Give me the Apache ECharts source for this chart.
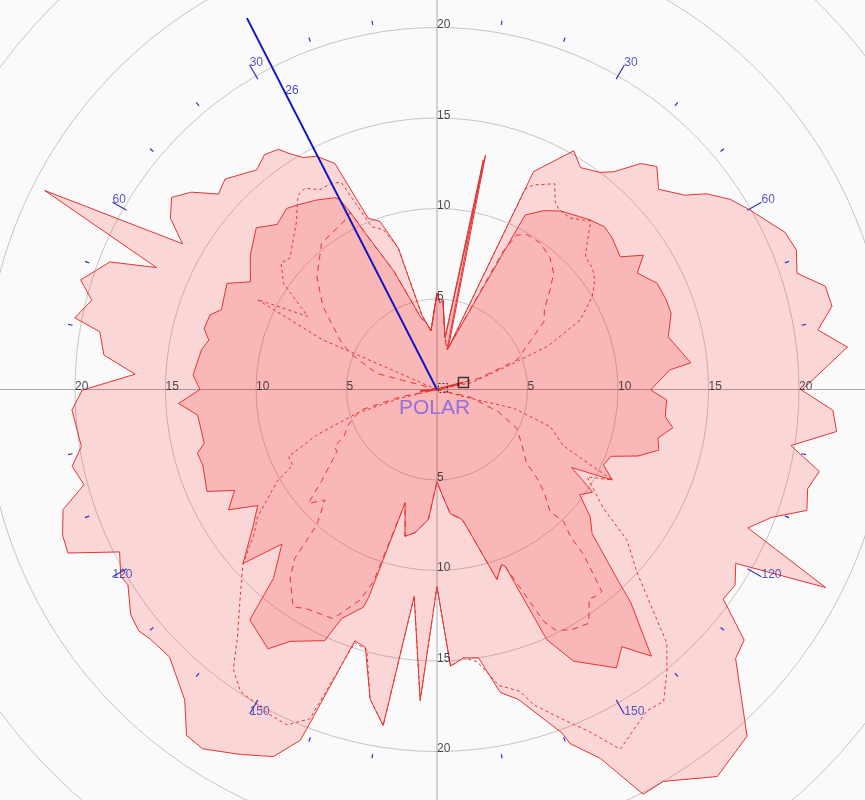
<!DOCTYPE html>
<html><head><meta charset="utf-8">
<script src="https://cdn.jsdelivr.net/npm/echarts@6.0.0/dist/echarts.min.js"></script>
<style>html,body{margin:0;padding:0;background:#fafafa}#c{width:865px;height:800px}</style>
</head><body><div id="c"></div>
<script>
// ---- data: points are [radius, angle in degrees clockwise from top] ----
const outerEnvelope = [
[5.33,0],[4.78,2.0],[4.96,3.8],[2.88,8.8],[13.23,11.7],[2.36,15.3],[13.17,23.9],[15.2,29.8],[14.6,32.9],[15.0,36.9],
[15.5,39.1],[16.8,42.0],[17.3,44.6],[16.5,47.9],[17.4,51.9],[18.4,54.0],[19.3,57.0],[19.9,60.0],[21.1,65.7],[21.3,68.8],
[20.9,72.1],[22.2,75.1],[22.3,78.1],[21.3,81.1],[22.8,84.1],[20.15,90.1],[21.9,93.0],[22.2,96.0],[19.8,99.0],[21.6,102.1],
[21.2,105.0],[21.5,108.1],[19.8,110.9],[18.8,114.0],[24.1,117.0],[19.1,120.2],[19.7,123.3],[19.6,126.2],[21.9,129.2],[22.2,132.0],
[25.7,138.2],[26.4,144.1],[25.0,150.0],[25.1,153.0],[22.3,156.1],[20.9,159.4],[20.2,160.0],[17.7,165.3],[17.1,168.2],[15.0,171.2],
[14.9,174.3],[15.3,177.2],[10.9,180.0],[17.2,183.1],[11.5,186.3],[18.8,189.1],[17.5,192.2],[14.8,195.5],[14.6,198.1],[20.1,201.0],
[20.8,201.3],[22.2,204.0],[22.9,208.3],[23.7,213.1],[23.6,215.9],[22.1,219.1],[20.9,225.0],[21.0,228.9],[21.2,231.0],[21.0,233.7],
[20.2,237.7],[20.3,239.4],[19.7,242.9],[22.3,246.1],[22.2,248.7],[21.7,252.2],[20.2,254.9],[20.6,258.1],[19.9,260.9],[20.2,266.8],
[19.6,269.9],[16.7,272.9],[18.5,275.9],[18.9,279.7],[20.4,281.2],[19.7,284.5],[20.6,287.1],[19.4,291.3],[16.9,293.5],[24.3,296.9],
[16.2,299.8],[17.5,302.7],[18.1,305.9],[17.4,308.8],[16.2,311.8],[16.5,314.8],[15.7,320.6],[16.1,323.7],[15.9,326.6],[15.4,327.9],
[14.8,330.0],[14.5,332.7],[13.7,335.7],[10.2,338.1],[9.8,341.3],[8.1,344.7],[4.2,348.5],[3.78,350.7],[3.25,354.1],[5.33,360]
];
const innerEnvelope = [
[5.33,0],[4.78,2.0],[4.96,3.8],[2.88,8.8],[12.95,11.4],[2.25,14.2],[10.8,26.8],[11.5,30.8],[12.0,34.7],[12.6,41.8],
[12.9,45.8],[12.8,49.2],[12.5,54.1],[13.6,56.95],[12.8,59.8],[13.5,64.2],[13.6,68.7],[13.6,72.0],[13.1,77.2],[14.1,84.0],
[12.9,85.2],[11.8,90.1],[12.7,92.6],[12.7,96.8],[13.2,99.2],[12.5,102.4],[12.7,105.3],[11.7,108.3],[10.3,111.0],[10.1,114.4],
[10.9,117.3],[8.6,120.1],[10.3,123.4],[9.8,126.4],[11.0,129.7],[11.7,132.9],[14.6,136.6],[15.9,137.7],[18.9,141.2],[17.5,144.3],
[18.3,147.2],[16.8,153.3],[15.1,156.3],[10.5,158.9],[10.3,159.7],[11.0,162.5],[7.6,168.2],[7.3,169.2],[6.9,173.9],[5.8,177.3],
[5.1,180.0],[7.2,183.8],[8.0,188.7],[8.3,192.3],[6.5,195.7],[12.1,198.2],[12.7,198.7],[13.7,202.6],[15.2,204.1],[16.1,210.2],
[17.1,213.1],[16.4,219.1],[13.8,220.9],[12.1,225.1],[14.4,228.1],[12.6,233.6],[11.8,237.1],[13.3,240.0],[12.5,243.5],[13.9,246.1],
[13.6,252.1],[13.7,255.1],[13.2,257.0],[13.3,263.9],[14.3,266.9],[13.1,270.0],[13.5,273.4],[13.2,279.5],[12.9,282.2],[13.3,284.7],
[13.2,288.2],[12.7,290.3],[13.0,296.8],[11.9,300.0],[12.7,305.7],[13.4,311.8],[12.7,315.9],[13.0,320.3],[12.8,322.7],[12.4,327.6],
[12.0,332.0],[11.8,332.9],[10.9,333.9],[9.1,335.9],[7.0,339.9],[4.5,345.7],[4.05,347.4],[3.78,350.7],[3.25,354.1],[5.33,360]
];
const dashedFine = [
[5.33,0],[4.78,2.0],[4.96,3.8],[2.88,8.8],[2.36,15.3],[12.1,23.7],[12.5,25.3],[13.1,29.8],[12.3,32.0],[12.0,34.1],
[12.0,37.9],[12.6,42.4],[11.4,46.4],[11.0,48.2],[10.9,52.0],[10.6,55.3],[10.0,59.1],[8.8,64.1],[6.6,68.6],[4.25,71.4],
[1.9,79],[0,90],[1.9,104.8],[4.4,103.8],[6.6,108.2],[7.6,113.9],[9.0,115.7],[10.9,117.3],[9.6,120.2],[11.3,125.5],
[13.4,128.4],[14.9,132.3],[17.1,135.7],[18.9,137.8],[20.1,140.8],[21.3,144.0],[21.2,146.8],[22.3,153.0],[20.6,156.2],[19.7,158.6],
[18.2,163.0],[17.3,164.6],[16.7,168.2],[15.2,171.6],[14.9,174.3],[15.3,177.2],[10.9,180],[17.2,183.1],[11.5,186.3],[18.8,189.1],
[17.5,192.2],[14.9,195.1],[14.7,198.0],[19.5,201.1],[20.3,204.1],[20.2,207.2],[20.0,210.5],[19.9,213.1],[19.1,216.1],[17.6,218.8],
[16.0,222.9],[14.4,228.1],[12.9,231.6],[12.2,234.5],[10.2,240.1],[9.0,242.3],[9.0,245.7],[7.1,249.3],[4.6,253.5],[2.1,256.6],
[0,270],[6.9,293.5],[11.1,296.6],[8.2,299.5],[10.3,304.6],[11.1,309.1],[10.9,311.8],[12.1,320.1],[12.7,322.5],[13.2,324.5],
[13.3,326.7],[12.8,329.6],[12.8,333.0],[12.6,335.2],[10.8,336.8],[9.7,338.1],[9.3,341.5],[8.1,344.7],[4.2,348.5],[3.78,350.7],
[3.25,354.1],[5.33,360]
];
const dashedLong = [
[5.33,0],[4.78,2.0],[4.96,3.8],[2.88,8.8],[2.25,14.2],[8.5,25.6],[9.6,27.3],[9.9,30.2],[9.9,35.2],[9.6,40.5],
[9.1,45.1],[8.3,48.7],[7.4,53.3],[7.0,57.6],[4.7,69.8],[2.46,75],[0,90],[1.87,102.8],[3.6,110],[4.9,115.9],
[5.6,123.1],[6.4,129.4],[7.4,131.6],[8.2,133.8],[9.2,137.2],[10.1,136.2],[11.0,137.8],[12.2,138.4],[13.4,139.8],[14.4,140.8],
[14.4,142.6],[14.3,144.0],[15.4,147.0],[15.2,151.0],[14.8,153.8],[14.1,155.3],[10.5,158.9],[10.3,159.7],[11.0,162.5],[7.6,168.2],
[7.3,169.2],[6.9,173.9],[5.8,177.3],[5.1,180],[7.2,183.8],[8.0,188.7],[8.3,192.3],[6.5,195.7],[11.2,198.3],[12.4,200.1],
[13.9,204.4],[14.1,210.8],[14.4,213.5],[13.2,217.9],[12.2,220.1],[10.0,221.6],[8.7,225.4],[9.5,228.5],[8.2,231.4],[6.5,238.2],
[6.5,240.7],[5.7,243.7],[5.3,248.2],[4.4,254.9],[2.1,258.5],[0,270],[3.45,285.0],[5.2,292.6],[6.0,297.0],[6.9,302.2],
[7.8,306.1],[9.1,313.2],[9.9,319.3],[10.3,321.7],[10.6,330.8],[10.9,333.9],[9.1,335.9],[7.0,339.9],[4.5,345.7],[4.05,347.4],
[3.78,350.7],[3.25,354.1],[5.33,360]
];
const headingLine = [[0.94,265],[0,0],[1.51,75.2]];
const markerSolid = [1.51,75.2];
const markerDashed = [0.34,76];
const laylineAngle = 332.9;
const laylineLength = 23.05;
const laylineLabel = '26';
const laylineLabelRadius = 18.4;
const radiusTickValues = [5,10,15,20];
const radiusLabelDirections = [0,90,180,270];
const angleLabelValues = [30,60,120,150];
const majorTickAngles = [30,60,120,150,210,240,300,330];
const minorTickAngles = [10,20,40,50,70,80,100,110,130,140,160,170,190,200,220,230,250,260,280,290,310,320,340,350];
const centerTitle = 'POLAR';

// ---- build ----
const TICK_OUT = 20.7, MAJ_IN = 19.8, MIN_IN = 20.45;
const tickData = [];
majorTickAngles.forEach(a => { tickData.push([MAJ_IN, a], [TICK_OUT, a], ['-', '-']); });
minorTickAngles.forEach(a => { tickData.push([MIN_IN, a], [TICK_OUT, a], ['-', '-']); });
const radiusLabelData = [];
radiusTickValues.forEach(v => radiusLabelDirections.forEach(d => radiusLabelData.push({name: String(v), value: [v, d]})));
const angleLabelData = [];
angleLabelValues.forEach(v => { angleLabelData.push({name: String(v), value: [TICK_OUT, v]}); angleLabelData.push({name: String(v), value: [TICK_OUT, 360 - v]}); });

const FONT = 'Liberation Sans, Arial, sans-serif';
const RED = '#e23434';
const labelSeries = (data, color, size) => ({
  type: 'scatter', coordinateSystem: 'polar', data, symbol: 'circle', symbolSize: 2, silent: true,
  itemStyle: {color: 'rgba(0,0,0,0)'}, z: 10,
  label: {show: true, position: [1, 4.5], align: 'left', verticalAlign: 'bottom', formatter: '{b}', color, fontSize: size, fontFamily: FONT}
});

const chart = echarts.init(document.getElementById('c'), null, {renderer: 'canvas'});
chart.setOption({
  animation: false,
  backgroundColor: '#fafafa',
  textStyle: {fontFamily: FONT},
  title: {text: centerTitle, left: 399, top: 398, padding: 0, textStyle: {color: '#9370DB', fontSize: 21, fontWeight: 'normal', fontFamily: FONT}},
  polar: {center: [437, 389.5], radius: 633.5},
  angleAxis: {type: 'value', min: 0, max: 360, interval: 90, startAngle: 90, clockwise: true,
    axisLine: {show: false}, axisTick: {show: false}, axisLabel: {show: false},
    splitLine: {show: true, lineStyle: {color: '#aaaaaa', width: 1}}},
  radiusAxis: {type: 'value', min: 0, max: 35, interval: 5,
    axisLine: {show: false}, axisTick: {show: false}, axisLabel: {show: false},
    splitLine: {show: true, lineStyle: {color: '#c6c6c6', width: 1}}},
  series: [
    {type: 'line', coordinateSystem: 'polar', data: outerEnvelope, showSymbol: false, symbol: 'none', smooth: false, silent: true,
      lineStyle: {color: RED, width: 1}, areaStyle: {color: 'rgba(255,0,0,0.14)', opacity: 1}},
    {type: 'line', coordinateSystem: 'polar', data: innerEnvelope, showSymbol: false, symbol: 'none', smooth: false, silent: true,
      lineStyle: {color: RED, width: 1}, areaStyle: {color: 'rgba(255,0,0,0.14)', opacity: 1}},
    {type: 'line', coordinateSystem: 'polar', data: dashedFine, showSymbol: false, symbol: 'none', silent: true,
      lineStyle: {color: RED, width: 1, type: [3, 3]}},
    {type: 'line', coordinateSystem: 'polar', data: dashedLong, showSymbol: false, symbol: 'none', silent: true,
      lineStyle: {color: RED, width: 1, type: [6, 5]}},
    {type: 'line', coordinateSystem: 'polar', data: headingLine, showSymbol: false, symbol: 'none', silent: true,
      lineStyle: {color: RED, width: 2}},
    {type: 'line', coordinateSystem: 'polar', data: [[0, laylineAngle], [laylineLength, laylineAngle]], showSymbol: false, symbol: 'none', silent: true,
      lineStyle: {color: '#1414c4', width: 2}, z: 5},
    {type: 'line', coordinateSystem: 'polar', data: tickData, showSymbol: false, symbol: 'none', silent: true, connectNulls: false,
      lineStyle: {color: '#3535c0', width: 1.2}},
    {type: 'scatter', coordinateSystem: 'polar', silent: true, z: 6, data: [markerSolid], symbol: 'rect', symbolSize: 10,
      itemStyle: {color: 'rgba(0,0,0,0)', borderColor: '#111', borderWidth: 1.5}},
    {type: 'scatter', coordinateSystem: 'polar', silent: true, z: 6, data: [markerDashed], symbol: 'rect', symbolSize: 9,
      itemStyle: {color: 'rgba(0,0,0,0)', borderColor: '#111', borderWidth: 1, borderType: [2, 2]}},
    labelSeries(radiusLabelData, '#222', 12),
    labelSeries(angleLabelData, '#3030b0', 12),
    labelSeries([{name: laylineLabel, value: [laylineLabelRadius, laylineAngle]}], '#1a1aa0', 12)
  ]
});
</script>
</body></html>
